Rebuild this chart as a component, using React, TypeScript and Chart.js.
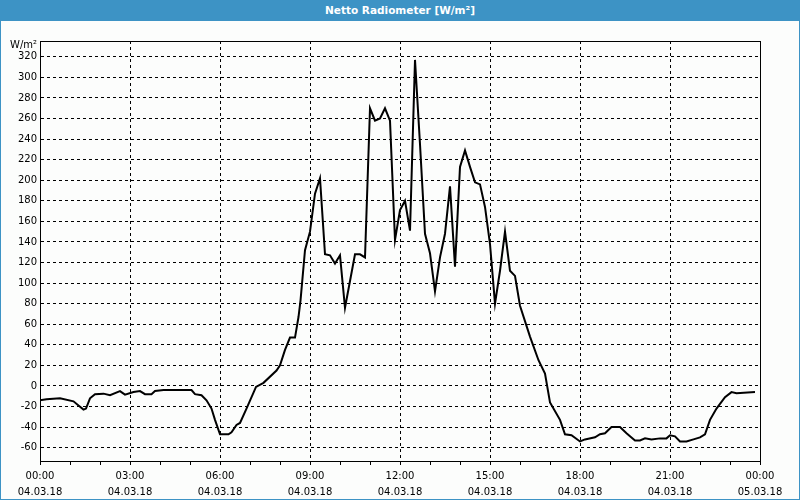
import React, { useEffect, useRef } from 'react';
import { Chart, registerables } from 'chart.js';

Chart.register(...registerables);

const TITLE = 'Netto Radiometer [W/m²]';
const Y_UNIT = 'W/m²';

// time of day in minutes since 00:00 (04.03.18)
const minutes = [
  0, 13, 40, 67, 77, 87, 92, 100, 110, 127, 140, 160, 170, 187, 200, 210, 223, 230, 247, 303,
  310, 323, 333, 343, 350, 360, 377, 383, 393, 400, 413, 432, 447, 473, 480, 490, 500, 510, 517, 521,
  530, 540, 550, 560, 570, 580, 590, 600, 610, 630, 640, 650, 660, 670, 680, 690, 700, 710, 720, 730,
  740, 750, 760, 770, 780, 790, 800, 810, 820, 830, 840, 850, 860, 870, 880, 890, 900, 910, 920, 930,
  940, 950, 960, 980, 997, 1010, 1020, 1040, 1050, 1063, 1080, 1090, 1110, 1120, 1130, 1143, 1160, 1173, 1190, 1200,
  1210, 1223, 1240, 1253, 1260, 1270, 1280, 1293, 1307, 1320, 1330, 1340, 1353, 1370, 1383, 1393, 1430,
];

// net radiation in W/m²
const values = [
  -14, -13, -12, -15, -19, -23, -22, -12, -8, -7.5, -9, -5, -8.5, -6, -5, -8, -8, -5, -4, -4,
  -8, -9, -14, -22, -33, -47, -47, -45, -38, -36, -22, -1, 3, 15, 20, 35, 47, 47, 67, 83,
  132, 150, 187, 202, 128, 127, 119, 127, 76, 128, 128, 125, 270, 258, 260, 270, 258, 142, 171, 180,
  151, 317, 235, 148, 129, 92, 125, 148, 194, 116, 213, 229, 213, 198, 196, 174, 138, 80, 112, 150,
  112, 107, 78, 48, 25, 12, -16, -33, -47, -48, -54, -52, -50, -47, -46, -40, -40, -46, -53, -53,
  -51, -52, -51, -51, -48, -49, -54, -54, -52, -50, -47, -33, -22, -11, -6, -7, -6,
];

const xTickTimes = ['00:00', '03:00', '06:00', '09:00', '12:00', '15:00', '18:00', '21:00', '00:00'];
const xTickDates = ['04.03.18', '04.03.18', '04.03.18', '04.03.18', '04.03.18', '04.03.18', '04.03.18', '04.03.18', '05.03.18'];

const FONT_FAMILY = '"DejaVu Sans", sans-serif';

const framePlugin = {
  id: 'frameAndUnit',
  afterDraw(chart: any) {
    const { ctx, chartArea: a } = chart;
    ctx.save();
    ctx.strokeStyle = '#000';
    ctx.lineWidth = 1;
    ctx.strokeRect(Math.round(a.left) + 0.5, Math.round(a.top) + 0.5, Math.round(a.right - a.left), Math.round(a.bottom - a.top));
    ctx.fillStyle = '#000';
    ctx.font = `10px ${FONT_FAMILY}`;
    ctx.textAlign = 'right';
    ctx.textBaseline = 'middle';
    ctx.fillText(Y_UNIT, a.left - 3, a.top + 4);
    ctx.restore();
  },
};

export default function App() {
  const canvasRef = useRef<HTMLCanvasElement | null>(null);

  useEffect(() => {
    const canvas = canvasRef.current;
    if (!canvas) return;
    const data = minutes.map((m, i) => ({ x: m, y: values[i] }));
    const chart = new Chart(canvas, {
      type: 'line',
      data: {
        datasets: [
          {
            data,
            borderColor: '#000',
            borderWidth: 2,
            pointRadius: 0,
            tension: 0,
            fill: false,
          },
        ],
      },
      options: {
        responsive: false,
        animation: false,
        parsing: false,
        layout: { padding: { top: 20, right: 40, left: 0, bottom: 0 } },
        plugins: {
          legend: { display: false },
          tooltip: { enabled: false },
          title: { display: false },
        },
        scales: {
          x: {
            type: 'linear',
            min: 0,
            max: 1440,
            afterFit: (s: any) => {
              s.height = 39;
            },
            ticks: {
              stepSize: 60,
              autoSkip: false,
              maxRotation: 0,
              minRotation: 0,
              padding: 4,
              color: '#000',
              font: { family: FONT_FAMILY, size: 10, lineHeight: 1.55 },
              callback: (v: any) => {
                const m = Number(v);
                if (m % 180 !== 0) return '';
                const i = m / 180;
                return [xTickTimes[i], xTickDates[i]];
              },
            },
            grid: {
              color: (ctx: any) => (ctx.tick && ctx.tick.value % 180 === 0 ? '#000' : 'rgba(0,0,0,0)'),
              lineWidth: 1,
              drawTicks: true,
              tickLength: 4,
              tickColor: '#000',
              tickWidth: 1,
            },
            border: { display: true, color: '#000', width: 1, dash: [3, 3] },
          },
          y: {
            type: 'linear',
            min: -73,
            max: 335.4,
            afterFit: (s: any) => {
              s.width = 40;
            },
            ticks: {
              stepSize: 20,
              includeBounds: false,
              padding: 3,
              color: '#000',
              font: { family: FONT_FAMILY, size: 10 },
            },
            grid: {
              color: '#000',
              lineWidth: 1,
              drawTicks: false,
            },
            border: { display: true, color: '#000', width: 1, dash: [3, 3] },
          },
        },
      },
      plugins: [framePlugin],
    } as any);
    return () => chart.destroy();
  }, []);

  return (
    <div
      style={{
        position: 'absolute',
        left: 0,
        top: 0,
        width: 800,
        height: 500,
        background: '#fcfdfc',
        overflow: 'hidden',
      }}
    >
      <div
        style={{
          position: 'absolute',
          left: 0,
          top: 0,
          width: 800,
          height: 21,
          background: '#3d93c5',
          color: '#fff',
          fontFamily: FONT_FAMILY,
          fontWeight: 'bold',
          fontSize: 10.5,
          lineHeight: '21px',
          textAlign: 'center',
        }}
      >
        {TITLE}
      </div>
      <canvas
        ref={canvasRef}
        width={800}
        height={479}
        style={{ position: 'absolute', left: 0, top: 21, width: 800, height: 479, display: 'block' }}
      />
      <div
        style={{
          position: 'absolute',
          left: 0,
          top: 0,
          width: 800,
          height: 500,
          boxSizing: 'border-box',
          border: '1px solid #3d93c5',
          pointerEvents: 'none',
        }}
      />
    </div>
  );
}
